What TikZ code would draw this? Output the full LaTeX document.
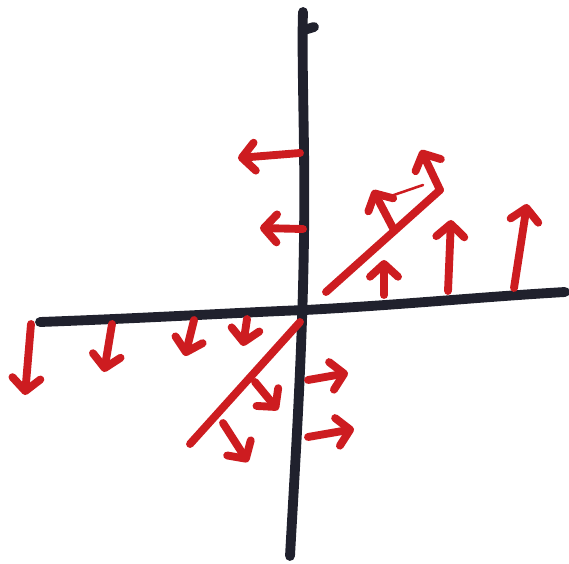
\documentclass[tikz,border=0pt]{standalone}
\usetikzlibrary{arrows.meta, calc}
\definecolor{inkred}{RGB}{205,28,32}
\definecolor{inkblack}{RGB}{32,33,45}

\begin{document}
\begin{tikzpicture}[
        x=0.025cm, y=-0.025cm,
        axis/.style={draw=inkblack, line width=7pt, line cap=round, line join=round},
        field/.style={draw=inkred, line width=5.6pt, line cap=round, line join=round,
                      -{Straight Barb[length=3.2mm, width=7mm, round]}},
        stroke/.style={draw=inkred, line width=5.6pt, line cap=round},
        hair/.style={draw=inkred, line width=1.8pt, line cap=round},
    ]
    \useasboundingbox (0,0) rectangle (569,563);

    % ===== Axes =====
    \draw[axis] (290,556) .. controls (297,430) and (306,300) .. (304,150)
                          .. controls (303,80) and (302,40) .. (303,12);
    \draw[axis] (304,30) -- (314,27);
    \draw[axis] (40,322) .. controls (150,318) and (250,312) .. (305,310)
                         .. controls (400,305) and (480,297) .. (565,292);

    % ===== Upper left: arrows pointing left =====
    \draw[field] (300,153) -- (238,158);
    \draw[field] (303,229) -- (260,228);

    % ===== Upper right: diagonal with arrows =====
    \coordinate (DA) at (326,292);
    \coordinate (DB) at (440,190);
    \draw[stroke] (DA) -- (DB);
    \draw[field] (DB) -- (421,150);
    \draw[field] ($(DA)!0.6!(DB)$) -- (373,190);
    \draw[hair] (388,197) -- (423,185);

    % ===== Right: arrows pointing up =====
    \foreach \xa/\ya/\xb/\yb in {384/295/384/260, 448/291/451/220, 514/288/527/204}
        { \draw[field] (\xa,\ya) -- (\xb,\yb); }

    % ===== Lower left: arrows pointing down =====
    \foreach \xa/\ya/\xb/\yb in {31/324/25/395, 112/324/104/372, 194/320/185/356, 247/319/243/346}
        { \draw[field] (\xa,\ya) -- (\xb,\yb); }

    % ===== Lower: diagonal with arrows =====
    \coordinate (DC) at (300,322);
    \coordinate (DD) at (190,444);
    \draw[stroke] (DC) -- (DD);
    \draw[field] (255,382) -- (278,410);
    \draw[field] (223,423) -- (248,462);

    % ===== Lower right: arrows pointing right =====
    \draw[field] (308,380) -- (348,373);
    \draw[field] (308,437) -- (354,429);
\end{tikzpicture}
\end{document}
